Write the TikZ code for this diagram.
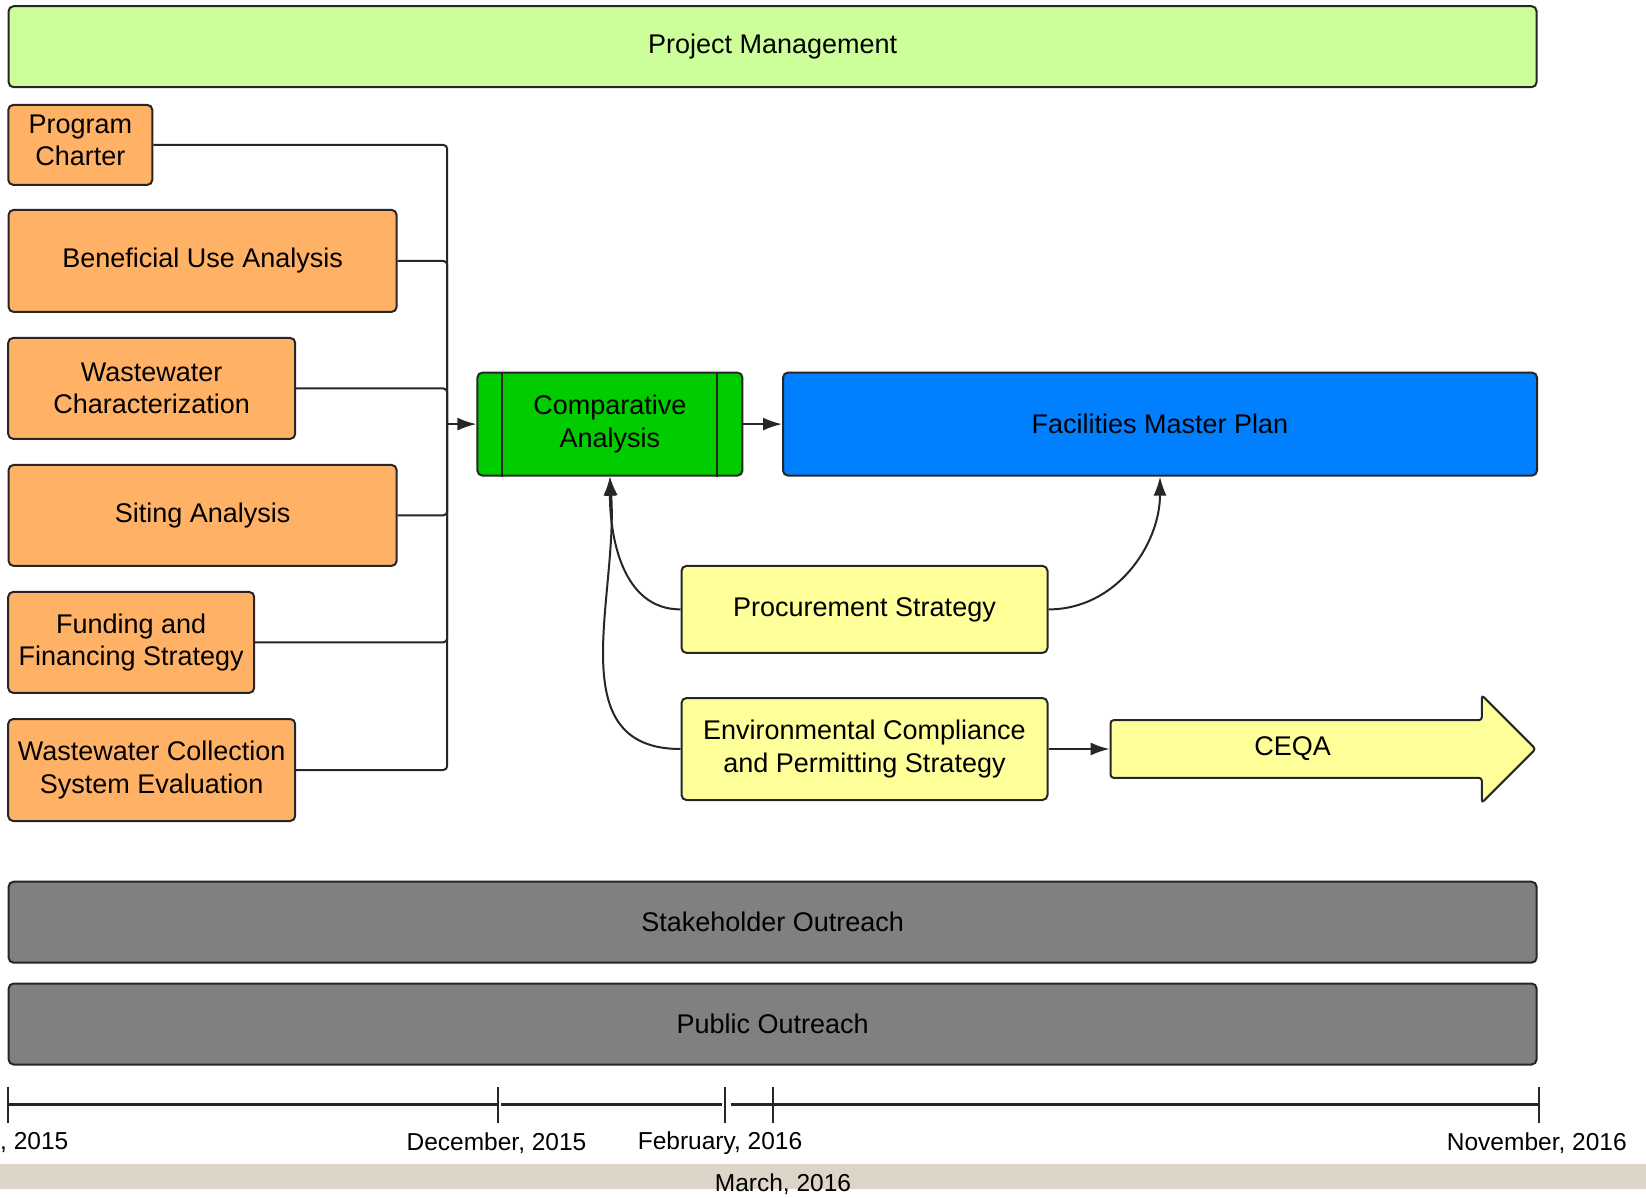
\documentclass[tikz,border=0pt]{standalone}
\usepackage{fontspec}
\setmainfont{Liberation Sans}
\usepackage{tikz}
\usetikzlibrary{arrows.meta,shapes.arrows}

\definecolor{taskorange}{RGB}{255,178,102}
\definecolor{pmgreen}{RGB}{204,255,153}
\definecolor{cagreen}{RGB}{0,204,0}
\definecolor{fmpblue}{RGB}{0,128,255}
\definecolor{taskyellow}{RGB}{255,255,153}
\definecolor{outreachgray}{RGB}{128,128,128}
\definecolor{bandbeige}{RGB}{221,213,199}

\begin{document}
\begin{tikzpicture}[x=1pt, y=-1pt,
  box/.style={draw=black!85, line width=2pt, rounded corners=5pt, inner sep=0pt,
    align=center, font=\fontsize{27}{32.5}\selectfont},
  orangebox/.style={box, fill=taskorange},
  yellowbox/.style={box, fill=taskyellow, minimum width=366pt},
  bar/.style={box, minimum width=1528pt, minimum height=81pt},
  link/.style={line width=2pt, draw=black!85, rounded corners=4pt},
  arr/.style={link, -{Latex[length=19pt,width=13pt]}},
  datelbl/.style={font=\fontsize{24.5}{29}\selectfont, inner sep=0pt},
  tline/.style={line width=2.5pt, draw=black!85}
]
\useasboundingbox (0,0) rectangle (1646,1198);

% top and bottom bars
\node (pm) at (772.6, 46.7) [bar, fill=pmgreen] {Project Management};
\node (so) at (772.6, 922.2) [bar, fill=outreachgray] {Stakeholder Outreach};
\node (po) at (772.6, 1024) [bar, fill=outreachgray] {Public Outreach};

% input tasks
\node (pc) at (80.3, 144.9) [orangebox, minimum width=144pt, minimum height=80pt,
  text height=47pt, text depth=5pt] {Program\\Charter};
\node (bu) at (202.6, 260.9) [orangebox, minimum width=388pt, minimum height=102pt] {Beneficial Use Analysis};
\node (wc) at (151.7, 388.4) [orangebox, minimum width=287pt, minimum height=101pt] {Wastewater\\Characterization};
\node (sa) at (202.6, 515.4) [orangebox, minimum width=388pt, minimum height=101pt] {Siting Analysis};
\node (ff) at (131.2, 642.4) [orangebox, minimum width=246pt, minimum height=101pt] {Funding and\\Financing Strategy};
\node (cs) at (151.7, 770) [orangebox, minimum width=287pt, minimum height=102pt] {Wastewater Collection\\System Evaluation};

\coordinate (bus) at (447.2, 424.1);
\draw[link] (pc.east) -| (bus);
\draw[link] (bu.east) -| (bus);
\draw[link] (wc.east) -| (bus);
\draw[link] (sa.east) -| (bus);
\draw[link] (ff.east) -| (bus);
\draw[link] (cs.east) -| (bus);

% main flow
\node (ca) at (609.9, 424.1) [box, fill=cagreen, minimum width=265pt, minimum height=103pt] {Comparative\\Analysis};
\draw[line width=2pt, draw=black!85] ([xshift=26pt]ca.north west) -- ([xshift=26pt]ca.south west);
\draw[line width=2pt, draw=black!85] ([xshift=-26pt]ca.north east) -- ([xshift=-26pt]ca.south east);
\node (fmp) at (1160, 424.1) [box, fill=fmpblue, minimum width=754pt, minimum height=103pt] {Facilities Master Plan};
\draw[arr] (bus) -- (ca.west);
\draw[arr] (ca.east) -- (fmp.west);

\node (ps) at (864.5, 609.4) [yellowbox, minimum height=87pt] {Procurement Strategy};
\node (ecp) at (864.5, 749) [yellowbox, minimum height=102pt] {Environmental Compliance\\and Permitting Strategy};
\node (ceqa) at (1109.6, 749) [single arrow, anchor=tail, draw=black!85, line width=2pt,
  fill=taskyellow, rounded corners=3pt, minimum height=425pt, single arrow head extend=25pt,
  inner sep=0pt, text height=34pt, text depth=21.6pt, font=\fontsize{27}{32.5}\selectfont] {\hspace*{-32pt}CEQA};

\draw[arr] (ps.west) to [out=180, in=-90] (ca.south);
\draw[arr] (ecp.west) to [out=180, in=-86, looseness=1.1] (ca.south);
\draw[arr] (ps.east) to [out=0, in=-90] (fmp.south);
\draw[arr] (ecp.east) -- (ceqa.tail);

% timeline
\draw[tline] (8.4, 1104.3) -- (497.6, 1104.3);
\draw[tline] (501, 1104.3) -- (722, 1104.3);
\draw[tline] (731, 1104.3) -- (1538.9, 1104.3);
\foreach \tx in {8.4, 497.6, 725.4, 772.6, 1538.9}
  \draw[line width=2pt, draw=black!85] (\tx, 1086.5) -- (\tx, 1123.2);
\node (d0) at (0, 1143) [datelbl, anchor=west] {, 2015};
\node (d1) at (496.5, 1143) [datelbl] {December, 2015};
\node (d2) at (720, 1143) [datelbl] {February, 2016};
\node (d4) at (1536.8, 1143) [datelbl] {November, 2016};
\fill[bandbeige] (0, 1164) rectangle (1646, 1189);
\node (d3) at (783, 1184) [datelbl] {March, 2016};
\end{tikzpicture}
\end{document}
